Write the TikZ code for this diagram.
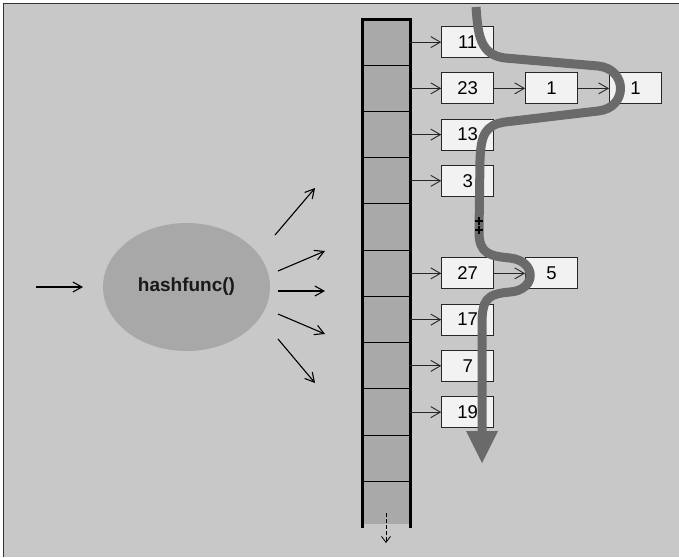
\documentclass[tikz,border=0pt]{standalone}
\usepackage{fontspec}
\setmainfont{Liberation Sans}
\usetikzlibrary{arrows.meta,shapes.geometric,positioning}
\definecolor{bg}{HTML}{C8C8C8}
\definecolor{cellc}{HTML}{A9A9A9}
\definecolor{ellc}{HTML}{A8A8A8}
\definecolor{boxc}{HTML}{F2F2F2}
\definecolor{pathc}{HTML}{6A6A6A}
\definecolor{framec}{HTML}{333333}
\begin{document}
\begin{tikzpicture}[x=1pt,y=-1pt,
  cell/.style={rectangle, fill=cellc, draw=none, minimum width=48pt, minimum height=46.25pt, inner sep=0pt},
  box/.style={rectangle, draw=black!85, line width=0.9pt, fill=boxc, minimum width=52pt, minimum height=31pt, inner sep=0pt, font=\fontsize{18.5}{20}\selectfont},
  arr/.style={-{Straight Barb[length=9.5pt,width=11pt]}, line width=0.9pt, black!85},
  fan/.style={-{Straight Barb[length=9pt,width=10pt]}, line width=1.1pt, black},
  snake/.style={line width=9pt, draw=pathc, line cap=butt, line join=round}
]
\useasboundingbox (0,0) rectangle (679,557);
\fill[white] (0,0) rectangle (679,557);
\fill[bg] (3.5,3.5) rectangle (679,557);
\draw[framec, line width=1.6pt] (3.5,557) -- (3.5,3.5) -- (679,3.5);

% hash table column
\foreach \i in {0,...,9} \node[cell] (c\i) at (386,{19+46.25*\i+23.125}) {};
\node[cell, minimum height=42.5pt] (c10) at (386,502.75) {};
\foreach \i in {1,...,10} \draw[line width=0.9pt] (c\i.north west) -- (c\i.north east);
\draw[line width=3pt] (362,528) -- (362,19) -- (410,19) -- (410,528);
\coordinate (dstart) at (386,513);
\coordinate (dend) at (386,543);
\draw[dashed, dash pattern=on 3.5pt off 2.5pt, line width=0.8pt, -{Straight Barb[length=6pt,width=9pt]}] (dstart) -- (dend);

% chain boxes
\node[box, right=31pt of c0] (b11) {11};
\node[box, right=31pt of c1] (b23) {23};
\node[box, right=31pt of b23] (b1a) {1};
\node[box, right=31pt of b1a] (b1b) {1};
\node[box, right=31pt of c2] (b13) {13};
\node[box, right=31pt of c3] (b3) {3};
\node[box, right=31pt of c5] (b27) {27};
\node[box, right=31pt of b27] (b5) {5};
\node[box, right=31pt of c6] (b17) {17};
\node[box, right=31pt of c7] (b7) {7};
\node[box, right=31pt of c8] (b19) {19};

\draw[arr] (c0.east) -- (b11.west);
\draw[arr] (c1.east) -- (b23.west);
\draw[arr] (b23.east) -- (b1a.west);
\draw[arr] (b1a.east) -- (b1b.west);
\draw[arr] (c2.east) -- (b13.west);
\draw[arr] (c3.east) -- (b3.west);
\draw[arr] (c5.east) -- (b27.west);
\draw[arr] (b27.east) -- (b5.west);
\draw[arr] (c6.east) -- (b17.west);
\draw[arr] (c7.east) -- (b7.west);
\draw[arr] (c8.east) -- (b19.west);

% hash function
\node[ellipse, fill=ellc, draw=none, minimum width=167pt, minimum height=128pt, inner sep=0pt,
      font=\bfseries\fontsize{19}{22}\selectfont, text=black!90] (hf) at (186.5,287) {hashfunc()};
\coordinate (in0) at (36,287);
\coordinate (in1) at (83,287);
\draw[fan] (in0) -- (in1);
\coordinate (f1a) at (275,235); \coordinate (f1b) at (315,188);
\coordinate (f2a) at (278,271); \coordinate (f2b) at (325,251);
\coordinate (f3a) at (278,291); \coordinate (f3b) at (325,291);
\coordinate (f4a) at (278,314); \coordinate (f4b) at (325,334);
\coordinate (f5a) at (278,339); \coordinate (f5b) at (315,383);
\foreach \k in {1,...,5} \draw[fan] (f\k a) -- (f\k b);

% thick traversal path
\draw[snake] (476,7) .. controls (478,35) and (480,55) .. (505,58)
  -- (598,66) .. controls (628,69) and (628,108) .. (598,111)
  -- (505,122) .. controls (485,125) and (481,135) .. (480,160)
  -- (479,232) .. controls (479,254) and (490,256) .. (510,258)
  .. controls (537,261) and (537,290) .. (510,292)
  .. controls (486,294) and (482,300) .. (482,325) -- (482,432);
\fill[pathc] (466,431) -- (498,431) -- (482,463) -- cycle;
\foreach \yy in {221,230} \draw[line width=1.5pt, black] (475,\yy) -- (483,\yy) (479,{\yy-4}) -- (479,{\yy+4});
\end{tikzpicture}
\end{document}
